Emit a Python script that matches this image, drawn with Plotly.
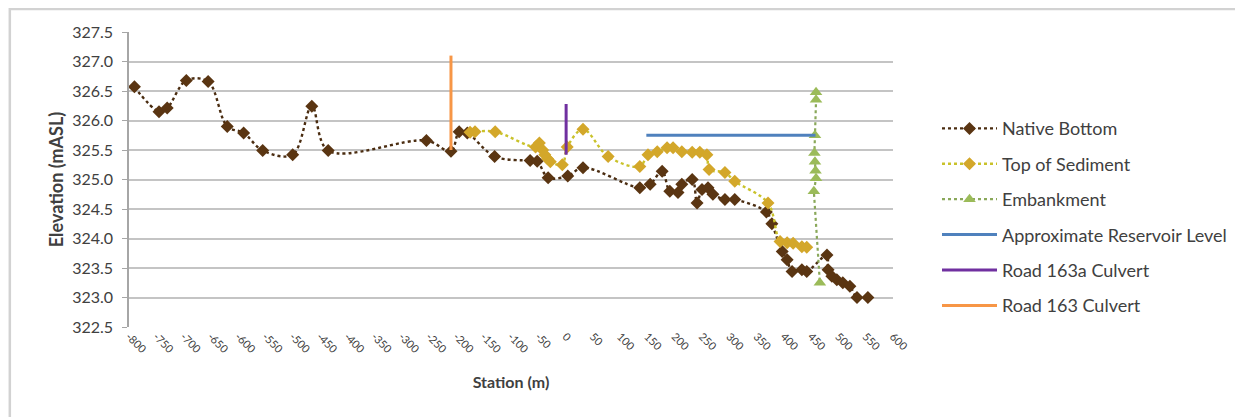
import plotly.graph_objects as go

# ---- Data ----
native_x = [-790, -745, -730, -695, -655, -620, -590, -555, -500, -465, -435,
            -255, -210, -195, -180, -130, -65, -52, -32, 4, 32,
            136, 155, 177, 191, 206, 213, 232, 241, 250, 261, 270, 292, 310,
            368, 378, 397, 406, 415, 433, 442, 479, 481, 488, 497, 508, 521, 534, 554]
native_y = [326.57, 326.15, 326.21, 326.68, 326.66, 325.9, 325.79, 325.49, 325.42, 326.24, 325.49,
            325.66, 325.48, 325.81, 325.79, 325.39, 325.32, 325.31, 325.03, 325.06, 325.2,
            324.86, 324.92, 325.14, 324.8, 324.78, 324.92, 325.0, 324.6, 324.83, 324.86, 324.75, 324.66, 324.66,
            324.45, 324.25, 323.78, 323.64, 323.44, 323.47, 323.44, 323.72, 323.47, 323.36, 323.3, 323.25, 323.19, 323.0, 323.0]

sediment_x = [-175, -166, -129, -55, -48, -42, -38, -33, -28, -6, 3, 32, 78,
              136, 151, 168, 186, 197, 213, 232, 246, 259, 263, 292, 310,
              371, 393, 406, 417, 433, 442]
sediment_y = [325.8, 325.81, 325.81, 325.55, 325.62, 325.5, 325.42, 325.35, 325.3, 325.25, 325.55, 325.85, 325.39,
              325.22, 325.42, 325.47, 325.54, 325.54, 325.47, 325.46, 325.46, 325.42, 325.17, 325.12, 324.97,
              324.6, 323.95, 323.93, 323.92, 323.86, 323.85]

embank_x = [459, 459, 457, 456, 457, 458, 459, 455, 466]
embank_y = [326.48, 326.35, 325.75, 325.45, 325.3, 325.15, 325.02, 324.8, 323.25]

reservoir_x = [148, 458]
reservoir_y = [325.75, 325.75]

culvert163a_x = [1, 1]
culvert163a_y = [325.42, 326.28]

culvert163_x = [-210, -210]
culvert163_y = [325.5, 327.1]

x_ticks = list(range(-800, 601, 50))
y_ticks = [322.5 + 0.5 * i for i in range(11)]

FONT = "Lato"
TXT = "#404040"

fig = go.Figure()

fig.add_trace(go.Scatter(
    x=native_x, y=native_y, name="Native Bottom", mode="lines+markers",
    line=dict(color="#4a2c10", width=2.4, dash="dot", shape="spline", smoothing=1),
    marker=dict(symbol="diamond", size=10, color="#5a3512"),
    legendgroup="a"))

fig.add_trace(go.Scatter(
    x=sediment_x, y=sediment_y, name="Top of Sediment", mode="lines+markers",
    line=dict(color="#c9c22a", width=2.4, dash="dot", shape="spline", smoothing=1),
    marker=dict(symbol="diamond", size=10, color="#d3a72a"),
    legendgroup="b"))

fig.add_trace(go.Scatter(
    x=embank_x, y=embank_y, name="Embankment", mode="lines+markers",
    line=dict(color="#8aa85a", width=2.2, dash="dot"),
    marker=dict(symbol="triangle-up", size=11, color="#9bbb59"),
    legendgroup="c"))

fig.add_trace(go.Scatter(
    x=reservoir_x, y=reservoir_y, name="Approximate Reservoir Level", mode="lines",
    line=dict(color="#4f81bd", width=3), legendgroup="d"))

fig.add_trace(go.Scatter(
    x=culvert163a_x, y=culvert163a_y, name="Road 163a Culvert", mode="lines",
    line=dict(color="#7030a0", width=3), legendgroup="e"))

fig.add_trace(go.Scatter(
    x=culvert163_x, y=culvert163_y, name="Road 163 Culvert", mode="lines",
    line=dict(color="#f79646", width=3), legendgroup="f"))

fig.update_layout(
    width=1243, height=417,
    margin=dict(l=121, r=358, t=24, b=98),
    paper_bgcolor="white", plot_bgcolor="white",
    font=dict(family=FONT, color=TXT, size=13),
    showlegend=True,
    legend=dict(x=1.0576, y=0.735, xanchor="left", yanchor="top",
                font=dict(family=FONT, size=18, color=TXT),
                tracegroupgap=9, itemwidth=55, bgcolor="rgba(0,0,0,0)"),
    xaxis=dict(range=[-800, 600], tickvals=x_ticks, ticktext=[str(v) for v in x_ticks],
               tickangle=45, tickfont=dict(size=11, color=TXT),
               showgrid=False, zeroline=False, showline=False, ticks="",
               title=dict(text="<b>Station (m)</b>", font=dict(size=16, color=TXT), standoff=22)),
    yaxis=dict(range=[322.5, 327.5], tickvals=y_ticks, ticktext=[f"{v:.1f}" for v in y_ticks],
               tickfont=dict(size=16, color=TXT), ticklabelstandoff=6,
               showgrid=True, gridcolor="#c4c4c4", gridwidth=1.6, zeroline=False,
               showline=True, linecolor="#a6a6a6", linewidth=1.5,
               ticks="outside", ticklen=5, tickcolor="#a6a6a6",
               title=dict(text="<b>Elevation (mASL)</b>", font=dict(size=18, color=TXT), standoff=4)),
)

# outer chart border
fig.add_shape(type="rect", xref="paper", yref="paper",
              x0=-0.156, x1=1.47, y0=-0.32, y1=1.078,
              line=dict(color="#d2d2d2", width=2.5), layer="below")

fig.write_html("out.html")
